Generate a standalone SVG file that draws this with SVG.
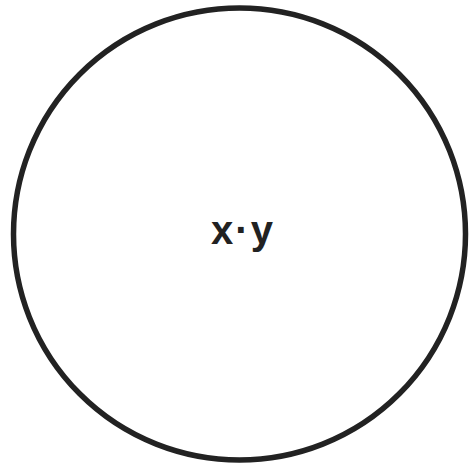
<svg xmlns="http://www.w3.org/2000/svg" width="469" height="465" viewBox="0 0 469 465">
<style>
.c{fill:none;stroke:#222;stroke-width:5.5}
.t{font-family:"Liberation Sans",Arial,sans-serif;font-size:40px;font-weight:bold;fill:#222;text-anchor:middle;letter-spacing:2px}
</style>
<rect width="469" height="465" fill="#fff"/>
<g id="circle">
<circle class="c" cx="239.5" cy="234" r="226"/>
<text class="t" x="243" y="244">x·y</text>
</g>
</svg>
